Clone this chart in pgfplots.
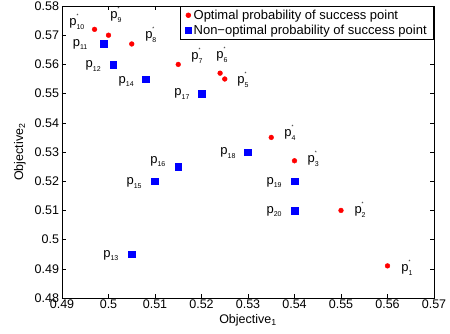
\documentclass[border=0pt]{standalone}
\usepackage{pgfplots}
\pgfplotsset{compat=1.18}
\usepackage{fontspec}
\setmainfont{Liberation Sans}

% point label: p with subscript and optional superscript
\newcommand{\pl}[2]{p\rlap{\raisebox{1.15ex}{\tiny #2}}\raisebox{-0.55ex}{\scriptsize #1}}

\pgfplotstableread{
x y
0.560 0.491
0.550 0.510
0.540 0.527
0.535 0.535
0.525 0.555
0.524 0.557
0.515 0.560
0.505 0.567
0.500 0.570
0.497 0.572
}\optimal

\pgfplotstableread{
x y
0.499 0.567
0.501 0.560
0.505 0.495
0.508 0.555
0.510 0.520
0.515 0.525
0.520 0.550
0.530 0.530
0.540 0.520
0.540 0.510
}\nonoptimal

\begin{document}
\begin{tikzpicture}
\begin{axis}[
  scale only axis,
  width=372pt, height=292pt,
  xmin=0.49, xmax=0.57, ymin=0.48, ymax=0.58,
  xtick={0.49,0.50,...,0.571},
  ytick={0.48,0.49,...,0.581},
  xticklabels={0.49,0.5,0.51,0.52,0.53,0.54,0.55,0.56,0.57},
  yticklabels={0.48,0.49,0.5,0.51,0.52,0.53,0.54,0.55,0.56,0.57,0.58},
  tick align=inside,
  major tick length=4pt,
  tick style={black, line width=0.5pt},
  axis line style={line width=0.7pt},
  /pgf/number format/assume math mode=true,
  tick label style={font=\fontsize{12.5}{14}\selectfont},
  xticklabel style={yshift=1.5pt},
  yticklabel style={xshift=0.5pt},
  label style={font=\fontsize{12.5}{14}\selectfont},
  xlabel={Objective\textsubscript{1}},
  ylabel={Objective\textsubscript{2}},
  xlabel style={at={(axis description cs:0.5,0)}, anchor=north, inner sep=0pt, yshift=-16pt},
  ylabel shift=2pt,
  legend style={at={(1,1)}, anchor=north east, draw=black, line width=0.6pt,
    font=\fontsize{13}{14}\selectfont, inner xsep=5pt, inner ysep=1.5pt,
    row sep=0pt, cells={anchor=west}},
  legend cell align=left,
]
\addplot[only marks, mark=*, mark size=2.4pt, color=red, mark options={fill=red}] table {\optimal};
\addlegendentry{Optimal probability of success point}
\addplot[only marks, mark=square*, mark size=3.3pt, color=blue, mark options={fill=blue}] table {\nonoptimal};
\addlegendentry{Non−optimal probability of success point}

\begin{scope}[every node/.style={font=\fontsize{13}{14}\selectfont, inner sep=0pt}]
\node at (axis cs:0.5642,0.4903) {\pl{1}{*}};
\node at (axis cs:0.5541,0.5101) {\pl{2}{*}};
\node at (axis cs:0.5440,0.5276) {\pl{3}{*}};
\node at (axis cs:0.5390,0.5365) {\pl{4}{*}};
\node at (axis cs:0.5289,0.5547) {\pl{5}{*}};
\node at (axis cs:0.5244,0.5632) {\pl{6}{*}};
\node at (axis cs:0.5190,0.5629) {\pl{7}{*}};
\node at (axis cs:0.5091,0.5701) {\pl{8}{*}};
\node at (axis cs:0.5016,0.5769) {\pl{9}{*}};
\node at (axis cs:0.4932,0.5745) {\pl{10}{*}};
\node at (axis cs:0.4939,0.5670) {\pl{11}{}};
\node at (axis cs:0.4967,0.5595) {\pl{12}{}};
\node at (axis cs:0.5005,0.4947) {\pl{13}{}};
\node at (axis cs:0.5038,0.5543) {\pl{14}{}};
\node at (axis cs:0.5055,0.5194) {\pl{15}{}};
\node at (axis cs:0.5106,0.5269) {\pl{16}{}};
\node at (axis cs:0.5158,0.5499) {\pl{17}{}};
\node at (axis cs:0.5257,0.5297) {\pl{18}{}};
\node at (axis cs:0.5356,0.5197) {\pl{19}{}};
\node at (axis cs:0.5356,0.5098) {\pl{20}{}};
\end{scope}
\end{axis}
\pgfresetboundingbox
\useasboundingbox (-62pt,-35pt) rectangle (388pt,298pt);
\end{tikzpicture}
\end{document}
